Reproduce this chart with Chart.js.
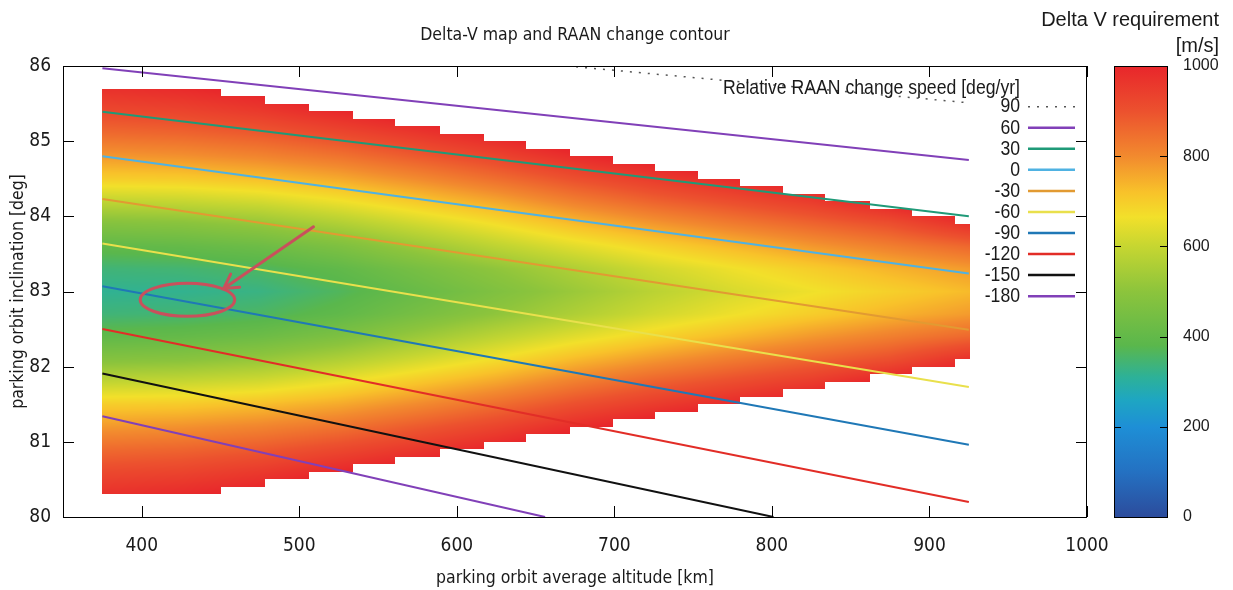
<!DOCTYPE html>
<html>
<head>
<meta charset="utf-8">
<script src="https://cdn.jsdelivr.net/npm/chart.js@4.4.1/dist/chart.umd.min.js"></script>
<style>
  html, body { margin: 0; padding: 0; background: #fff; }
</style>
</head>
<body>
<canvas id="myChart" width="1233" height="590"></canvas>
<script>
// grid of the delta-V map (one row of deltaV per altitude)
const altitudes = [375, 425, 475, 525, 575, 625, 675, 725, 775, 825, 875, 925];
const inclinations = [80.3, 80.6, 80.9, 81.2, 81.5, 81.8, 82.1, 82.4, 82.7, 83.0, 83.3, 83.6, 83.9, 84.2, 84.5, 84.8, 85.1, 85.4, 85.7];
const deltaV = [
  [975, 920, 855, 780, 700, 590, 480, 395, 340, 315, 340, 395, 480, 590, 700, 780, 855, 920, 975],
  [990, 930, 865, 790, 705, 600, 490, 405, 345, 318, 345, 405, 490, 600, 705, 790, 865, 930, 990],
  [1015, 955, 885, 810, 725, 620, 515, 425, 360, 330, 360, 425, 515, 620, 725, 810, 885, 955, 1015],
  [1060, 995, 920, 840, 755, 660, 560, 465, 395, 365, 395, 465, 560, 660, 755, 840, 920, 995, 1060],
  [1100, 1035, 960, 885, 800, 710, 615, 525, 450, 415, 450, 525, 615, 710, 800, 885, 960, 1035, 1100],
  [1150, 1080, 1005, 930, 850, 760, 670, 585, 505, 470, 505, 585, 670, 760, 850, 930, 1005, 1080, 1150],
  [1200, 1130, 1060, 985, 905, 820, 730, 640, 560, 525, 560, 640, 730, 820, 905, 985, 1060, 1130, 1200],
  [1240, 1170, 1100, 1030, 950, 870, 780, 690, 615, 580, 615, 690, 780, 870, 950, 1030, 1100, 1170, 1240],
  [1280, 1210, 1140, 1070, 990, 910, 825, 735, 660, 625, 660, 735, 825, 910, 990, 1070, 1140, 1210, 1280],
  [1320, 1250, 1180, 1110, 1030, 950, 865, 780, 700, 660, 700, 780, 865, 950, 1030, 1110, 1180, 1250, 1320],
  [1380, 1310, 1240, 1170, 1090, 1010, 905, 820, 740, 695, 740, 820, 905, 1010, 1090, 1170, 1240, 1310, 1380],
  [1430, 1360, 1290, 1220, 1140, 1060, 975, 860, 775, 730, 775, 860, 975, 1060, 1140, 1220, 1290, 1360, 1430]
];

// staircase edge of the map (start altitude of each step, top / bottom inclination)
const stepAlt = [375, 450, 478, 506, 534, 561, 589, 617, 644, 672, 699, 726, 753, 780, 807, 834, 862, 889, 916];
const stepTop = [85.7, 85.6, 85.5, 85.4, 85.3, 85.2, 85.1, 85.0, 84.9, 84.8, 84.7, 84.6, 84.5, 84.4, 84.3, 84.2, 84.1, 84.0, 83.9];
const stepBottom = [80.3, 80.4, 80.5, 80.6, 80.7, 80.8, 80.9, 81.0, 81.1, 81.2, 81.3, 81.4, 81.5, 81.6, 81.7, 81.8, 81.9, 82.0, 82.1];
const mapEndAlt = 926;

// RAAN change contours [deg/yr]
const raanLevels = ['90', '60', '30', '0', '-30', '-60', '-90', '-120', '-150', '-180'];
const raanAlt = [[670, 925], [375, 925], [375, 925], [375, 925], [375, 925], [375, 925], [375, 925], [375, 925], [375, 801], [375, 656]];
const raanInc = [[86.0, 85.51], [85.97, 84.75], [85.39, 84.0], [84.80, 83.24], [84.23, 82.49], [83.64, 81.73], [83.07, 80.96], [82.50, 80.20], [81.91, 80.0], [81.34, 80.0]];

// tick labels
const xTicks = [400, 500, 600, 700, 800, 900, 1000];
const yTicks = [80, 81, 82, 83, 84, 85, 86];
const dvTicks = [0, 200, 400, 600, 800, 1000];

// styles
const raanColors = ['#555555', '#8140b8', '#1f9a78', '#4fb2e2', '#e29a32', '#e9e04c', '#1f78b6', '#e22d27', '#111111', '#8140b8'];
const palette = [[0, '#2c4c9c'], [100, '#2471c2'], [200, '#1e8fd6'], [260, '#1ea6c2'], [310, '#2db198'], [380, '#5ab74c'], [500, '#8cc43c'], [600, '#c6d631'], [665, '#f2e02a'], [720, '#f8c22a'], [800, '#f28a2e'], [900, '#ec512e'], [1000, '#e8262b']];
const font_main = "'Liberation Sans Narrow', 'DejaVu Sans Condensed', 'Liberation Sans', sans-serif";
const font_bar = "'Liberation Sans', Arial, sans-serif";
const text_color = '#1a1a1a';
const note_color = '#c9505c';

// annotation (ring + arrow) in data units
const ringCenter = [429, 82.89];
const ringRadius = [30, 0.22];
const arrowFrom = [509, 83.86];
const arrowTo = [452, 83.04];

const hexToRgb = (hex) => [parseInt(hex.slice(1, 3), 16), parseInt(hex.slice(3, 5), 16), parseInt(hex.slice(5, 7), 16)];
const palette_rgb = palette.map(p => [p[0], hexToRgb(p[1])]);

const colorFor = (v) => {
  if (v <= palette_rgb[0][0]) return palette_rgb[0][1];
  for (let i = 1; i < palette_rgb.length; i++) {
    if (v <= palette_rgb[i][0]) {
      const [v0, c0] = palette_rgb[i - 1];
      const [v1, c1] = palette_rgb[i];
      const t = (v - v0) / (v1 - v0);
      return [c0[0] + (c1[0] - c0[0]) * t, c0[1] + (c1[1] - c0[1]) * t, c0[2] + (c1[2] - c0[2]) * t];
    }
  }
  return palette_rgb[palette_rgb.length - 1][1];
};

// bilinear shading between grid values
const gridValue = (alt, inc) => {
  let i = 0;
  while (i < altitudes.length - 2 && alt > altitudes[i + 1]) i++;
  let j = 0;
  while (j < inclinations.length - 2 && inc > inclinations[j + 1]) j++;
  let tx = (alt - altitudes[i]) / (altitudes[i + 1] - altitudes[i]);
  let ty = (inc - inclinations[j]) / (inclinations[j + 1] - inclinations[j]);
  tx = Math.min(1, Math.max(0, tx));
  ty = Math.min(1, Math.max(0, ty));
  return deltaV[i][j] * (1 - tx) * (1 - ty) + deltaV[i + 1][j] * tx * (1 - ty)
    + deltaV[i][j + 1] * (1 - tx) * ty + deltaV[i + 1][j + 1] * tx * ty;
};

// heat map under the contour lines
const heatmapPlugin = {
  id: 'heatmap',
  beforeDatasetsDraw: (chart) => {
    const {ctx, chartArea: area, scales} = chart;
    const w = Math.round(area.right - area.left);
    const h = Math.round(area.bottom - area.top);
    const off = document.createElement('canvas');
    off.width = w;
    off.height = h;
    const octx = off.getContext('2d');
    const img = octx.createImageData(w, h);
    const col_alt = [];
    const col_step = [];
    for (let px = 0; px < w; px++) {
      const alt = scales.x.getValueForPixel(area.left + px + 0.5);
      let k = -1;
      stepAlt.forEach((a, s) => { if (alt >= a) k = s; });
      col_alt.push(alt);
      col_step.push(alt > mapEndAlt ? -1 : k);
    }
    for (let py = 0; py < h; py++) {
      const inc = scales.y.getValueForPixel(area.top + py + 0.5);
      for (let px = 0; px < w; px++) {
        const k = col_step[px];
        if (k < 0 || inc > stepTop[k] || inc < stepBottom[k]) continue;
        const c = colorFor(gridValue(col_alt[px], inc));
        const p = (py * w + px) * 4;
        img.data[p] = c[0];
        img.data[p + 1] = c[1];
        img.data[p + 2] = c[2];
        img.data[p + 3] = 255;
      }
    }
    octx.putImageData(img, 0, 0);
    ctx.drawImage(off, area.left, area.top);
  }
};

// narrow text (the picture's lettering is squeezed sideways)
const narrowText = (ctx, text, x, y, squeeze) => {
  ctx.save();
  ctx.translate(x, y);
  ctx.scale(squeeze, 1);
  ctx.fillText(text, 0, 0);
  ctx.restore();
};

// ring, arrow and key
const notePlugin = {
  id: 'notes',
  afterDatasetsDraw: (chart) => {
    const {ctx, chartArea: area, scales: {x, y}} = chart;
    ctx.save();
    ctx.strokeStyle = note_color;
    ctx.lineWidth = 3;
    const cx = x.getPixelForValue(ringCenter[0]);
    const cy = y.getPixelForValue(ringCenter[1]);
    const rx = x.getPixelForValue(ringCenter[0] + ringRadius[0]) - cx;
    const ry = y.getPixelForValue(ringCenter[1] - ringRadius[1]) - cy;
    ctx.beginPath();
    ctx.ellipse(cx, cy, rx, ry, 0, 0, Math.PI * 2);
    ctx.stroke();

    const x0 = x.getPixelForValue(arrowFrom[0]), y0 = y.getPixelForValue(arrowFrom[1]);
    const x1 = x.getPixelForValue(arrowTo[0]), y1 = y.getPixelForValue(arrowTo[1]);
    const back = Math.atan2(y0 - y1, x0 - x1);
    ctx.lineCap = 'round';
    ctx.beginPath();
    ctx.moveTo(x0, y0);
    ctx.lineTo(x1, y1);
    ctx.moveTo(x1 + 16 * Math.cos(back - 0.52), y1 + 16 * Math.sin(back - 0.52));
    ctx.lineTo(x1, y1);
    ctx.lineTo(x1 + 16 * Math.cos(back + 0.52), y1 + 16 * Math.sin(back + 0.52));
    ctx.stroke();

    // key
    ctx.font = `21px ${font_bar}`;
    ctx.fillStyle = text_color;
    ctx.textAlign = 'right';
    ctx.textBaseline = 'middle';
    const kx = area.right - 67;
    narrowText(ctx, 'Relative RAAN change speed [deg/yr]', kx, area.top + 22, 0.84);
    raanLevels.forEach((lab, i) => {
      const ly = area.top + 40.7 + i * 21.05;
      narrowText(ctx, lab, kx, ly, 0.84);
      ctx.beginPath();
      ctx.strokeStyle = raanColors[i];
      ctx.lineWidth = i == 0 ? 1.5 : 2.5;
      ctx.lineCap = 'butt';
      ctx.setLineDash(i == 0 ? [2, 7] : []);
      ctx.moveTo(area.right - 59, ly);
      ctx.lineTo(area.right - 12, ly);
      ctx.stroke();
    });
    ctx.restore();
  }
};

// border, inward ticks and colour bar
const framePlugin = {
  id: 'frame',
  afterDraw: (chart) => {
    const {ctx, chartArea: area, scales: {x, y, dv}} = chart;
    ctx.save();
    ctx.strokeStyle = '#000';
    ctx.lineWidth = 1;
    ctx.strokeRect(area.left + 0.5, area.top + 0.5, area.right - area.left - 1, area.bottom - area.top);
    ctx.beginPath();
    xTicks.forEach(v => {
      const px = Math.round(x.getPixelForValue(v)) + 0.5;
      ctx.moveTo(px, area.bottom);
      ctx.lineTo(px, area.bottom - 11);
      ctx.moveTo(px, area.top);
      ctx.lineTo(px, area.top + 11);
    });
    yTicks.forEach(v => {
      const py = Math.round(y.getPixelForValue(v)) + 0.5;
      ctx.moveTo(area.left, py);
      ctx.lineTo(area.left + 11, py);
      ctx.moveTo(area.right, py);
      ctx.lineTo(area.right - 11, py);
    });
    ctx.stroke();

    const bx = area.right + 27;
    const bw = 53;
    const top = dv.getPixelForValue(1000);
    const bottom = dv.getPixelForValue(0);
    const grad = ctx.createLinearGradient(0, bottom, 0, top);
    palette.forEach(p => grad.addColorStop(p[0] / 1000, p[1]));
    ctx.fillStyle = grad;
    ctx.fillRect(bx, top, bw, bottom - top);
    ctx.strokeRect(bx + 0.5, top + 0.5, bw, bottom - top);
    ctx.beginPath();
    dvTicks.forEach(v => {
      if (v == 0 || v == 1000) return;
      const py = Math.round(dv.getPixelForValue(v)) + 0.5;
      ctx.moveTo(bx, py);
      ctx.lineTo(bx + 7, py);
      ctx.moveTo(bx + bw, py);
      ctx.lineTo(bx + bw - 7, py);
    });
    ctx.stroke();

    ctx.font = `20px ${font_bar}`;
    ctx.fillStyle = text_color;
    ctx.textAlign = 'right';
    ctx.textBaseline = 'middle';
    ctx.fillText('Delta V requirement', area.right + 132, 20);
    ctx.fillText('[m/s]', area.right + 132, 46);
    ctx.restore();
  }
};

const datasets = raanLevels.map((lab, i) => ({
  label: lab,
  data: raanAlt[i].map((a, k) => ({x: a, y: raanInc[i][k]})),
  borderColor: raanColors[i],
  borderWidth: i == 0 ? 1.5 : 2,
  borderDash: i == 0 ? [2, 7] : [],
  pointRadius: 0,
  fill: false,
  tension: 0,
  yAxisID: 'y'
}));

const tick_font = {family: font_main, size: 19};
const title_font = {family: font_main, size: 17.5, lineHeight: 1.2};
const plainLabel = (v) => String(v);
// keep the scale's own label padding from pushing the plot area around
const noPadding = (s) => { s.paddingTop = 0; s.paddingBottom = 0; s.paddingLeft = 0; s.paddingRight = 0; };

new Chart(document.getElementById('myChart'), {
  type: 'line',
  data: {datasets: datasets},
  options: {
    responsive: false,
    animation: false,
    devicePixelRatio: 1,
    layout: {padding: 0},
    plugins: {
      legend: {display: false},
      tooltip: {enabled: false},
      title: {
        display: true,
        text: 'Delta-V map and RAAN change contour',
        fullSize: false,
        color: text_color,
        font: {family: font_main, size: 17.5, weight: 'normal', lineHeight: 1.2},
        padding: {top: 24.5, bottom: 20.5}
      }
    },
    scales: {
      x: {
        type: 'linear',
        min: 350,
        max: 1000,
        afterBuildTicks: (s) => { s.ticks = xTicks.map(v => ({value: v})); },
        afterFit: (s) => { s.height = 73; noPadding(s); },
        grid: {display: false, drawTicks: false},
        border: {display: false},
        ticks: {padding: 18, font: tick_font, color: text_color, maxRotation: 0, callback: plainLabel},
        title: {display: true, text: 'parking orbit average altitude [km]', font: title_font, color: text_color, padding: {top: 0, bottom: 1.5}}
      },
      y: {
        type: 'linear',
        min: 80,
        max: 86,
        afterBuildTicks: (s) => { s.ticks = yTicks.map(v => ({value: v})); },
        afterFit: (s) => { s.width = 63; noPadding(s); },
        grid: {display: false, drawTicks: false},
        border: {display: false},
        ticks: {padding: 12, font: tick_font, color: text_color, callback: plainLabel},
        title: {display: true, text: 'parking orbit inclination [deg]', font: title_font, color: text_color, padding: {top: 7.5, bottom: 0}}
      },
      dv: {
        type: 'linear',
        position: 'right',
        min: 0,
        max: 1000,
        afterBuildTicks: (s) => { s.ticks = dvTicks.map(v => ({value: v})); },
        afterFit: (s) => { s.width = 146; noPadding(s); },
        grid: {display: false, drawTicks: false},
        border: {display: false},
        ticks: {padding: 96, font: {family: font_bar, size: 16}, color: text_color, callback: plainLabel}
      }
    }
  },
  plugins: [heatmapPlugin, notePlugin, framePlugin]
});
</script>
</body>
</html>
